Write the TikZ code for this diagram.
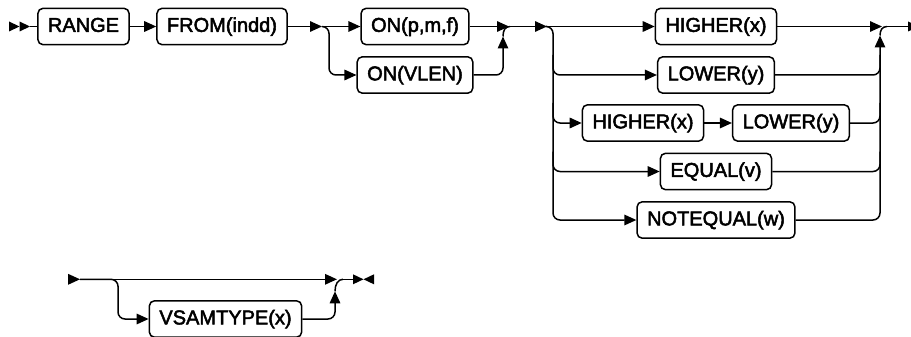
\documentclass[tikz,border=0pt]{standalone}
\usepackage{fontspec}
\setmainfont{Liberation Sans}
\newfontfamily\boxfont{Liberation Sans}[FakeBold=2.5]
\usetikzlibrary{arrows.meta}
\def\RowA{26.5}
\def\RowB{75}
\def\RowC{123}
\def\RowD{171.5}
\def\RowE{220}
\def\RowF{279.3}
\def\RowG{319}
\begin{document}
\begin{tikzpicture}[x=1pt,y=-1pt,
  box/.style={draw, rounded corners=5pt, line width=1.5pt, inner xsep=10pt, inner ysep=8.5pt,
    text height=15pt, text depth=4.3pt, font=\boxfont\fontsize{20pt}{24pt}\selectfont},
  conn/.style={line width=1.5pt},
  arr/.style={conn, -{Triangle[length=12pt,width=10.5pt]}},
  rnd/.style={rounded corners=7pt}]
\useasboundingbox (0,0) rectangle (911,337);
\fill[white] (0,0) rectangle (911,337);
\clip (0,0) rectangle (911,337);

% ---------- nodes ----------
\node[box] (r)  at (83.5,\RowA) {RANGE};
\node[box] (f)  at (222,\RowA)  {FROM(indd)};
\node[box] (o1) at (415,\RowA)  {ON(p,m,f)};
\node[box] (o2) at (415,\RowB)  {ON(VLEN)};
\node[box] (h1) at (716,\RowA)  {HIGHER(x)};
\node[box] (l1) at (716,\RowB)  {LOWER(y)};
\node[box] (h2) at (643,\RowC)  {HIGHER(x)};
\node[box] (l2) at (791,\RowC)  {LOWER(y)};
\node[box] (eq) at (716,\RowD)  {EQUAL(v)};
\node[box] (ne) at (716,\RowE)  {NOTEQUAL(w)};
\node[box] (vs) at (225.5,\RowG) {VSAMTYPE(x)};

% ---------- coordinates ----------
\coordinate (s)   at (30,\RowA);
\coordinate (j1)  at (322,\RowA);
\coordinate (j2a) at (509,\RowA);
\coordinate (j2u) at (503,\RowA+10);
\coordinate (j2c) at (510,\RowA);
\coordinate (j3)  at (547,\RowA);
\coordinate (j4a) at (882,\RowA);
\coordinate (j4u) at (880,\RowA+9);
\coordinate (j4c) at (887,\RowA);
\coordinate (e1)  at (908,\RowA);
\coordinate (b0)  at (80,\RowF);
\coordinate (bj)  at (337,\RowF);
\coordinate (bu)  at (335,\RowF+12);
\coordinate (bc)  at (343,\RowF);
\coordinate (e2)  at (353,\RowF);

% ---------- start / end markers ----------
\fill (9,\RowA-5) -- (19.5,\RowA) -- (9,\RowA+5) -- cycle;
\fill (19.5,\RowA-5) -- (30,\RowA) -- (19.5,\RowA+5) -- cycle;
\fill (908,\RowA-5) -- (919,\RowA) -- (908,\RowA+5) -- cycle;
\fill (68,\RowF-5.5) -- (80,\RowF) -- (68,\RowF+5.5) -- cycle;
\fill (353,\RowF-5) -- (363.5,\RowF) -- (353,\RowF+5) -- cycle;
\fill (374,\RowF-5) -- (363.5,\RowF) -- (374,\RowF+5) -- cycle;

% ---------- top row ----------
\draw[conn] (s) -- (r);
\draw[arr] (r) -- (f);
\draw[arr] (f) -- (j1);
\draw[arr] (j1) -- (o1);
\draw[arr,rnd] (j1) -| (329,\RowB) -- (o2);
\draw[arr] (o1) -- (j2a);
\draw[arr,rnd] (o2) -| (j2u);
\draw[conn] (j2u) .. controls (503,\RowA+4) and (505,\RowA) .. (j2c);
\draw[arr] (j2c) -- (j3);

% choice group
\draw[arr] (j3) -- (h1);
\draw[arr,rnd] (j3) -| (553,\RowE) -- (ne);
\draw[arr,rnd] (553,\RowB-20) |- (l1);
\draw[arr,rnd] (553,\RowC-20) |- (h2);
\draw[arr] (h2) -- (l2);
\draw[arr,rnd] (553,\RowD-20) |- (eq);
\draw[arr] (h1) -- (j4a);
\draw[conn,rnd] (l1) -| (880,\RowB-20);
\draw[conn,rnd] (l2) -| (880,\RowC-20);
\draw[conn,rnd] (eq) -| (880,\RowD-20);
\draw[arr,rnd] (ne) -| (j4u);
\draw[conn] (j4u) .. controls (880,\RowA+4) and (882,\RowA) .. (j4c);
\draw[conn] (j4c) -- (e1);

% ---------- bottom row ----------
\draw[arr] (b0) -- (bj);
\draw[arr,rnd] (b0) -| (118,\RowG) -- (vs);
\draw[arr,rnd] (vs) -| (bu);
\draw[conn] (bu) .. controls (335,\RowF+5) and (338,\RowF) .. (bc);
\draw[conn] (bc) -- (e2);
\end{tikzpicture}
\end{document}
